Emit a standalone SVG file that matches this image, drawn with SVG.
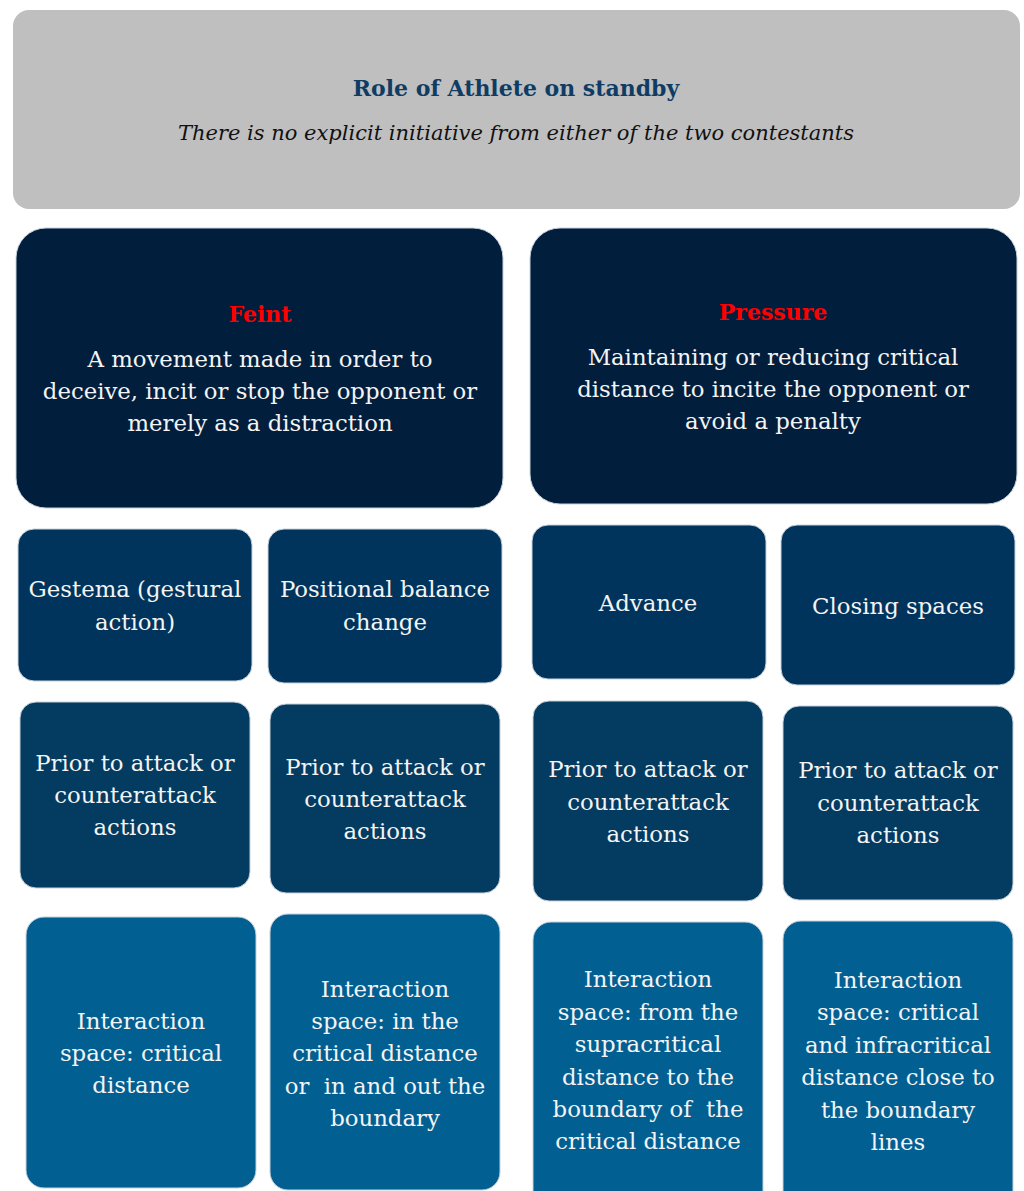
<svg xmlns="http://www.w3.org/2000/svg" width="1024" height="1191" viewBox="0 0 1024 1191">
<style>
.t{font-family:"DejaVu Serif","Liberation Serif",serif;font-size:22.8px;fill:#f4f4f4;text-anchor:middle}
.h{font-family:"DejaVu Serif","Liberation Serif",serif;font-size:22px;font-weight:bold;fill:#ff0000;text-anchor:middle}
.b{stroke:#c8d2dc;stroke-width:1}
</style>
<rect width="1024" height="1191" fill="#ffffff"/>
<g id="connectors"/>
<g id="top">
<rect x="13" y="10" width="1007" height="199" rx="16" fill="#bfbfbf"/>
<text x="516" y="96" style="font-family:'DejaVu Serif','Liberation Serif',serif;font-size:22px;font-weight:bold;fill:#0f3c64;text-anchor:middle">Role of Athlete on standby</text>
<text x="516" y="140" style="font-family:'DejaVu Serif','Liberation Serif',serif;font-size:21px;font-style:italic;fill:#111111;text-anchor:middle">There is no explicit initiative from either of the two contestants</text>
</g>
<g id="feint">
<rect class="b" x="16" y="228" width="487" height="280" rx="30" fill="#011f3d"/>
<text class="h" x="260" y="322">Feint</text>
<text class="t" x="260" y="367">A movement made in order to</text>
<text class="t" x="260" y="399">deceive, incit or stop the opponent or</text>
<text class="t" x="260" y="431">merely as a distraction</text>
</g>
<g id="pressure">
<rect class="b" x="530" y="228" width="487" height="276" rx="30" fill="#011f3d"/>
<text class="h" x="773" y="320">Pressure</text>
<text class="t" x="773" y="365">Maintaining or reducing critical</text>
<text class="t" x="773" y="397">distance to incite the opponent or</text>
<text class="t" x="773" y="429">avoid a penalty</text>
</g>
<g id="gestema">
<rect class="b" x="18" y="529" width="234" height="152" rx="16" fill="#01345c"/>
<text class="t" x="135" y="597">Gestema (gestural</text>
<text class="t" x="135" y="630">action)</text>
</g>
<g id="positional">
<rect class="b" x="268" y="529" width="234" height="154" rx="16" fill="#01345c"/>
<text class="t" x="385" y="597">Positional balance</text>
<text class="t" x="385" y="630">change</text>
</g>
<g id="advance">
<rect class="b" x="532" y="525" width="234" height="154" rx="16" fill="#01345c"/>
<text class="t" x="648" y="611">Advance</text>
</g>
<g id="closing">
<rect class="b" x="781" y="525" width="234" height="160" rx="16" fill="#01345c"/>
<text class="t" x="898" y="614">Closing spaces</text>
</g>
<g id="prior1">
<rect class="b" x="20" y="702" width="230" height="186" rx="16" fill="#043b60"/>
<text class="t" x="135" y="771">Prior to attack or</text>
<text class="t" x="135" y="803">counterattack</text>
<text class="t" x="135" y="835">actions</text>
</g>
<g id="prior2">
<rect class="b" x="270" y="704" width="230" height="189" rx="16" fill="#043b60"/>
<text class="t" x="385" y="775">Prior to attack or</text>
<text class="t" x="385" y="807">counterattack</text>
<text class="t" x="385" y="839">actions</text>
</g>
<g id="prior3">
<rect class="b" x="533" y="701" width="230" height="200" rx="16" fill="#043b60"/>
<text class="t" x="648" y="777">Prior to attack or</text>
<text class="t" x="648" y="810">counterattack</text>
<text class="t" x="648" y="842">actions</text>
</g>
<g id="prior4">
<rect class="b" x="783" y="706" width="230" height="194" rx="16" fill="#043b60"/>
<text class="t" x="898" y="778">Prior to attack or</text>
<text class="t" x="898" y="811">counterattack</text>
<text class="t" x="898" y="843">actions</text>
</g>
<g id="interaction1">
<rect class="b" x="26" y="917" width="230" height="271" rx="18" fill="#025f92"/>
<text class="t" x="141" y="1029">Interaction</text>
<text class="t" x="141" y="1061">space: critical</text>
<text class="t" x="141" y="1093">distance</text>
</g>
<g id="interaction2">
<rect class="b" x="270" y="914" width="230" height="276" rx="18" fill="#025f92"/>
<text class="t" x="385" y="997">Interaction</text>
<text class="t" x="385" y="1029">space: in the</text>
<text class="t" x="385" y="1061">critical distance</text>
<text class="t" x="385" y="1094" xml:space="preserve">or  in and out the</text>
<text class="t" x="385" y="1126">boundary</text>
</g>
<g id="interaction3">
<rect class="b" x="533" y="922" width="230" height="290" rx="18" fill="#025f92"/>
<text class="t" x="648" y="987">Interaction</text>
<text class="t" x="648" y="1020">space: from the</text>
<text class="t" x="648" y="1052">supracritical</text>
<text class="t" x="648" y="1085">distance to the</text>
<text class="t" x="648" y="1117" xml:space="preserve">boundary of  the</text>
<text class="t" x="648" y="1149">critical distance</text>
</g>
<g id="interaction4">
<rect class="b" x="783" y="921" width="230" height="290" rx="18" fill="#025f92"/>
<text class="t" x="898" y="988">Interaction</text>
<text class="t" x="898" y="1020">space: critical</text>
<text class="t" x="898" y="1053">and infracritical</text>
<text class="t" x="898" y="1085">distance close to</text>
<text class="t" x="898" y="1118">the boundary</text>
<text class="t" x="898" y="1150">lines</text>
</g>
</svg>
